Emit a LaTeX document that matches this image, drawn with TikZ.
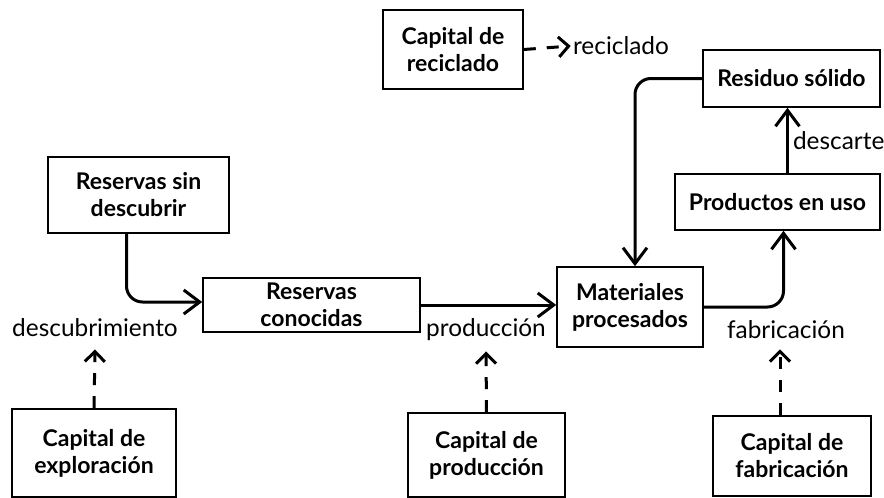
\documentclass[tikz,border=0pt]{standalone}
\usepackage{fontspec}
\setmainfont{Lato}
\usepackage{xcolor}
\usepackage{tikz}
\usetikzlibrary{arrows.meta, positioning}

\begin{document}
\begin{tikzpicture}[x=0.5pt, y=-0.5pt,
        box/.style={draw, line width=0.8pt, align=center, inner sep=1pt,
              font=\fontsize{11.5}{13.5}\selectfont\bfseries},
        lab/.style={inner sep=1pt, font=\fontsize{12.2}{14}\selectfont},
        flow/.style={line width=1.5pt, rounded corners=8pt,
              -{Straight Barb[length=8pt,width=12pt,line width=1.5pt]}},
        capflow/.style={line width=1.5pt, dash pattern=on 6pt off 5.5pt,
              -{Straight Barb[length=5pt,width=10pt,line width=1.5pt]}}]
    \useasboundingbox (0,0) rectangle (884,498);

    % stocks
    \node[box, minimum width=90.5pt, minimum height=38pt] (undisc) at (138.5,195) {Reservas sin\\descubrir};
    \node[box, minimum width=108.5pt, minimum height=27pt] (known) at (311.5,305) {Reservas\\conocidas};
    \node[box, minimum width=73pt, minimum height=40pt] (proc) at (630,307) {Materiales\\procesados};
    \node[box, minimum width=102.5pt, minimum height=28pt] (inuse) at (777.5,202) {Productos en uso};
    \node[box, minimum width=88.5pt, minimum height=28.5pt] (waste) at (791.5,78.5) {Residuo sólido};

    % capital
    \node[box, minimum width=70pt, minimum height=39.5pt] (caprec) at (453,49.5) {Capital de\\reciclado};
    \node[box, minimum width=82pt, minimum height=44pt] (capexp) at (94,453) {Capital de\\exploración};
    \node[box, minimum width=78.5pt, minimum height=42pt] (capprod) at (486.5,455) {Capital de\\producción};
    \node[box, minimum width=79pt, minimum height=40pt] (capfab) at (792,456) {Capital de\\fabricación};

    % flow labels
    \node[lab] (disc) at (95,328) {descubrimiento};
    \node[lab] (prodlab) at (486,330) {producción};
    \node[lab] (fablab) at (786,330) {fabricación};
    \node[lab] (reclab) at (621,46) {reciclado};

    % material flows
    \draw[flow] ([xshift=-6pt]undisc.south) |- ([yshift=1.5pt]known.west);
    \draw[flow] (known.east) -- (known.east -| proc.west);
    \draw[flow] (proc.east) -| ([xshift=3pt]inuse.south);
    \draw[flow] (waste.west) -| ([xshift=2.5pt]proc.north);
    \draw[flow] ([xshift=-2pt]waste.south |- inuse.north) -- node[lab, right=1pt] (desc) {descarte} ([xshift=-2pt]waste.south);

    % capital inputs
    \draw[capflow] (capexp.north) -- ([yshift=-5pt]disc.south);
    \draw[capflow] (capprod.north) -- ([yshift=-4pt]prodlab.south);
    \draw[capflow] (capfab.north -| fablab.south) ++(-3pt,0) -- ([xshift=-3pt,yshift=-4pt]fablab.south);
    \draw[capflow] (caprec.east) -- (reclab.west);
\end{tikzpicture}
\end{document}
